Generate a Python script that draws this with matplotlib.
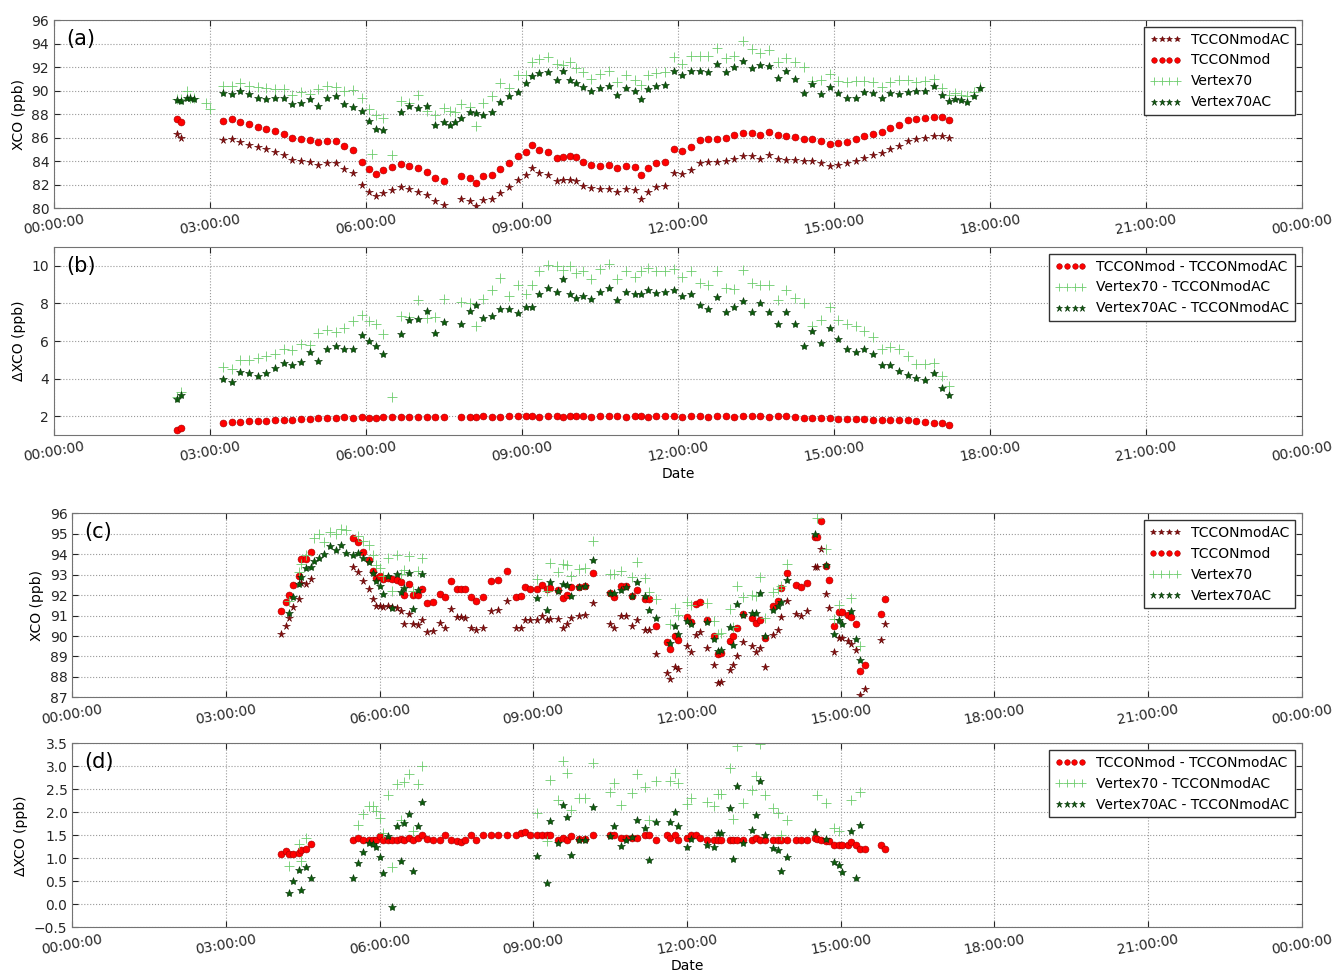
import matplotlib
matplotlib.use("Agg")
import matplotlib.pyplot as plt
import numpy as np

# ---------------- day 1 : panels (a) and (b) ----------------
# times of the TCCON measurements
t1 = ["02:22", "02:27", "03:15", "03:25", "03:35", "03:45", "03:55", "04:05", "04:15", "04:25",
      "04:35", "04:45", "04:55", "05:05", "05:15", "05:25", "05:35", "05:45", "05:55", "06:03",
      "06:12", "06:20", "06:30", "06:40", "06:50", "07:00", "07:10", "07:20", "07:30", "07:50",
      "08:00", "08:07", "08:15", "08:25", "08:35", "08:45", "08:55", "09:05", "09:12", "09:20",
      "09:30", "09:40", "09:47", "09:55", "10:02", "10:10", "10:20", "10:30", "10:40", "10:50",
      "11:00", "11:10", "11:17", "11:25", "11:35", "11:45", "11:55", "12:05", "12:15", "12:25",
      "12:35", "12:45", "12:55", "13:05", "13:15", "13:25", "13:35", "13:45", "13:55", "14:05",
      "14:15", "14:25", "14:35", "14:45", "14:55", "15:05", "15:15", "15:25", "15:35", "15:45",
      "15:55", "16:05", "16:15", "16:25", "16:35", "16:45", "16:55", "17:05", "17:13"]
# XCO TCCONmodAC (ppb)
ac1 = [86.3, 86.0, 85.8, 85.9, 85.6, 85.4, 85.2, 85.0, 84.8, 84.5,
       84.1, 84.0, 83.9, 83.7, 83.8, 83.8, 83.3, 83.0, 82.0, 81.4,
       81.0, 81.3, 81.5, 81.8, 81.6, 81.4, 81.1, 80.6, 80.3, 80.8,
       80.6, 80.2, 80.7, 80.8, 81.3, 81.8, 82.4, 82.8, 83.4, 83.0,
       82.8, 82.3, 82.4, 82.4, 82.3, 81.9, 81.7, 81.6, 81.6, 81.4,
       81.6, 81.5, 80.8, 81.4, 81.8, 81.9, 83.0, 82.9, 83.2, 83.8,
       83.9, 83.9, 84.0, 84.2, 84.4, 84.4, 84.2, 84.5, 84.2, 84.1,
       84.1, 84.0, 84.0, 83.8, 83.6, 83.7, 83.8, 84.0, 84.3, 84.5,
       84.7, 85.0, 85.3, 85.7, 85.9, 86.0, 86.1, 86.1, 86.0]
# TCCONmod - TCCONmodAC
dmod1 = [1.28, 1.35, 1.62, 1.68, 1.70, 1.72, 1.73, 1.75, 1.78, 1.80,
         1.82, 1.85, 1.87, 1.90, 1.93, 1.92, 1.95, 1.93, 1.95, 1.90,
         1.92, 1.97, 1.98, 1.98, 1.97, 1.98, 1.97, 1.98, 1.98, 1.95,
         1.97, 1.96, 2.00, 1.97, 1.98, 2.00, 2.02, 2.00, 2.00, 1.98,
         2.00, 2.00, 1.98, 2.00, 2.02, 2.00, 1.98, 2.00, 2.02, 2.00,
         1.98, 2.00, 2.00, 1.98, 2.00, 2.02, 2.00, 1.98, 2.00, 2.00,
         1.98, 2.00, 2.00, 1.98, 2.00, 2.00, 2.00, 1.98, 2.00, 2.00,
         1.98, 1.90, 1.88, 1.88, 1.88, 1.85, 1.86, 1.84, 1.84, 1.82,
         1.80, 1.80, 1.80, 1.80, 1.72, 1.68, 1.66, 1.62, 1.52]
# Vertex70 - TCCONmodAC
dv1 = [3.0, 3.3, 4.6, 4.5, 5.0, 5.0, 5.1, 5.2, 5.3, 5.6,
       5.5, 5.85, 5.8, 6.45, 6.6, 6.5, 6.7, 7.05, 7.4, 7.05,
       6.9, 6.4, 3.0, 7.35, 7.3, 8.2, 7.2, 7.3, 8.25, 8.07,
       8.0, 6.8, 8.25, 8.7, 9.36, 8.4, 8.96, 8.5, 9.0, 9.7,
       10.05, 10.0, 9.8, 10.0, 9.6, 9.7, 9.3, 9.85, 10.1, 9.3,
       9.7, 9.4, 9.7, 9.9, 9.7, 9.7, 9.85, 9.4, 9.7, 9.1,
       9.0, 9.7, 8.8, 8.75, 9.8, 9.1, 9.0, 8.96, 8.2, 8.7,
       8.3, 8.0, 6.8, 7.1, 7.8, 7.1, 6.9, 6.8, 6.55, 6.2,
       5.6, 5.7, 5.6, 5.2, 4.8, 4.8, 4.85, 4.15, 3.6]
# Vertex70AC - TCCONmodAC
dvac1 = [2.9, 3.15, 3.96, 3.8, 4.35, 4.3, 4.15, 4.3, 4.55, 4.85,
         4.75, 4.9, 5.4, 4.95, 5.55, 5.75, 5.55, 5.6, 6.3, 6.0,
         5.75, 5.3, np.nan, 6.4, 7.1, 7.15, 7.6, 6.45, 7.0, 6.9,
         7.6, 7.9, 7.2, 7.35, 7.7, 7.7, 7.5, 7.8, 7.8, 8.5,
         8.8, 8.6, 9.3, 8.5, 8.3, 8.4, 8.25, 8.6, 8.8, 8.2,
         8.6, 8.5, 8.5, 8.7, 8.55, 8.6, 8.7, 8.4, 8.5, 7.9,
         7.7, 8.35, 7.55, 7.8, 8.15, 7.55, 8.0, 7.55, 6.9, 7.55,
         6.9, 5.75, 6.55, 5.9, 6.7, 6.1, 5.6, 5.4, 5.6, 5.3,
         4.7, 4.75, 4.4, 4.2, 4.05, 3.95, 4.3, 3.5, 3.15]
# Vertex measurements without a TCCON partner
tv1 = ["02:33", "02:37", "02:41", "02:55", "03:00", "06:07", "07:37", "07:43",
       "17:20", "17:27", "17:34", "17:41", "17:48"]
v70_1 = [90.0, 89.4, 89.4, 88.9, 88.4, 84.6, 88.3, 88.2, 89.8, 89.6, 89.5, 89.9, 90.3]
v70ac_1 = [89.4, 89.4, 89.3, np.nan, np.nan, np.nan, 87.1, 87.3, 89.3, 89.2, 89.0, 89.5, 90.2]

# ---------------- day 2 : panels (c) and (d) ----------------
t2 = ["04:04", "04:10", "04:14", "04:19", "04:25", "04:28", "04:34", "04:40", "05:29", "05:35",
      "05:41", "05:47", "05:52", "05:56", "06:00", "06:04", "06:10", "06:15", "06:20", "06:25",
      "06:29", "06:34", "06:39", "06:45", "06:50", "06:55", "07:03", "07:11", "07:16", "07:24",
      "07:30", "07:35", "07:40", "07:47", "07:53", "08:01", "08:10", "08:19", "08:29", "08:40",
      "08:46", "08:50", "08:56", "09:04", "09:10", "09:16", "09:19", "09:29", "09:35", "09:39",
      "09:44", "09:54", "10:00", "10:10", "10:30", "10:34", "10:43", "10:49", "10:55", "11:01",
      "11:11", "11:16", "11:24", "11:36", "11:40", "11:46", "11:49", "12:00", "12:05", "12:11",
      "12:15", "12:23", "12:31", "12:36", "12:40", "12:50", "12:54", "12:59", "13:05", "13:16",
      "13:21", "13:25", "13:31", "13:41", "13:47", "13:50", "13:57", "14:07", "14:14", "14:21",
      "14:30", "14:32", "14:37", "14:43", "14:46", "14:52", "14:58", "15:02", "15:08", "15:12",
      "15:18", "15:22", "15:28", "15:47", "15:52"]
ac2 = [90.1, 90.5, 90.9, 91.4, 91.8, 92.6, 92.55, 92.8, 93.4, 93.15,
       92.7, 92.3, 91.8, 91.45, 91.45, 91.4, 91.45, 91.4, 91.35, 91.2,
       90.6, 91.1, 90.6, 90.55, 90.8, 90.2, 90.25, 90.65, 90.4, 91.3,
       90.95, 90.95, 90.9, 90.4, 90.3, 90.4, 91.2, 91.25, 91.7, 90.4,
       90.4, 90.8, 90.8, 90.8, 91.0, 90.8, 90.85, 90.85, 90.4, 90.6,
       90.9, 91.0, 91.05, 91.6, 90.6, 90.4, 91.0, 91.0, 90.5, 90.8,
       90.3, 90.3, 89.1, 88.2, 87.9, 88.5, 88.4, 89.5, 89.2, 90.05,
       90.2, 89.4, 88.6, 87.7, 87.75, 88.35, 88.6, 89.0, 89.7, 89.5,
       89.2, 89.4, 88.5, 90.05, 90.3, 90.95, 91.7, 91.1, 91.0, 91.2,
       93.4, 93.4, 94.25, 92.05, 91.35, 89.2, 89.9, 89.9, 89.75, 89.6,
       89.3, 87.1, 87.4, 89.8, 90.6]
dmod2 = [1.1, 1.15, 1.1, 1.1, 1.12, 1.18, 1.2, 1.3, 1.4, 1.44,
         1.4, 1.4, 1.4, 1.4, 1.49, 1.4, 1.4, 1.4, 1.4, 1.42,
         1.4, 1.45, 1.4, 1.45, 1.5, 1.42, 1.4, 1.4, 1.5, 1.4,
         1.37, 1.35, 1.4, 1.5, 1.4, 1.5, 1.5, 1.5, 1.5, 1.5,
         1.55, 1.58, 1.5, 1.5, 1.5, 1.5, 1.5, 1.4, 1.45, 1.4,
         1.48, 1.42, 1.42, 1.5, 1.5, 1.5, 1.45, 1.45, 1.45, 1.45,
         1.5, 1.5, 1.4, 1.5, 1.45, 1.5, 1.4, 1.45, 1.5, 1.5,
         1.45, 1.4, 1.4, 1.4, 1.4, 1.4, 1.4, 1.4, 1.4, 1.4,
         1.45, 1.4, 1.4, 1.4, 1.4, 1.4, 1.4, 1.4, 1.4, 1.4,
         1.45, 1.42, 1.4, 1.38, 1.38, 1.29, 1.29, 1.29, 1.29, 1.35,
         1.29, 1.2, 1.2, 1.29, 1.2]
dv2 = [np.nan, np.nan, 0.83, np.nan, 1.31, 0.93, 1.43, np.nan, np.nan, 1.72,
       1.96, 2.14, 2.14, 2.03, 1.87, 1.56, 2.38, 0.8, 2.62, 1.83,
       2.65, 2.83, 1.6, 2.62, 3.0, np.nan, np.nan, np.nan, np.nan, np.nan,
       np.nan, np.nan, np.nan, np.nan, np.nan, np.nan, np.nan, np.nan, np.nan, np.nan,
       np.nan, np.nan, np.nan, 1.98, np.nan, 1.38, 2.7, 2.27, 3.12, 2.85,
       2.05, 2.3, 2.3, 3.07, 2.45, 2.63, 2.16, np.nan, 2.41, 2.83,
       2.54, 1.83, 2.69, np.nan, 2.69, 2.86, 2.63, 2.18, 2.3, np.nan,
       np.nan, 2.23, 2.14, 2.4, 2.4, 2.96, 1.85, 3.44, 2.2, 2.49,
       2.78, 3.48, 2.38, 2.1, 1.99, 1.5, 1.83, np.nan, np.nan, np.nan,
       np.nan, 2.38, np.nan, 2.21, np.nan, 1.65, 1.6, np.nan, np.nan, 2.27,
       np.nan, 2.43, np.nan, np.nan, np.nan]
dvac2 = [np.nan, np.nan, 0.25, 0.51, 0.75, 0.3, 0.8, 0.57, 0.58, 0.89,
         1.13, 1.33, 1.3, 1.24, 1.02, 0.67, 1.49, -0.05, 1.7, 0.94,
         1.76, 1.96, 0.73, 1.7, 2.23, np.nan, np.nan, np.nan, np.nan, np.nan,
         np.nan, np.nan, np.nan, np.nan, np.nan, np.nan, np.nan, np.nan, np.nan, np.nan,
         np.nan, np.nan, np.nan, 1.05, np.nan, 0.47, 1.8, 1.33, 2.16, 1.89,
         1.07, 1.4, 1.4, 2.12, 1.49, 1.7, 1.27, 1.4, 1.47, 1.83,
         1.65, 0.96, 1.78, np.nan, 1.78, 2.01, 1.7, 1.24, 1.41, np.nan,
         np.nan, 1.29, 1.24, 1.55, 1.55, 2.09, 0.98, 2.57, 1.33, 1.62,
         1.94, 2.69, 1.51, 1.22, 1.17, 0.73, 1.02, np.nan, np.nan, np.nan,
         1.58, np.nan, np.nan, 1.41, np.nan, 0.91, 0.86, 0.71, np.nan, 1.6,
         0.57, 1.72, np.nan, np.nan, np.nan]
tv2 = ["04:43", "04:49", "04:55", "05:02", "05:09", "05:15", "05:21"]
v70_2 = [94.8, 95.0, 94.6, 95.1, 95.0, 95.25, 95.2]
v70ac_2 = [93.65, 93.8, 94.0, 94.4, 94.2, 94.45, 94.05]

hour_ticks = [0, 3, 6, 9, 12, 15, 18, 21, 24]
hour_labels = ["00:00:00", "03:00:00", "06:00:00", "09:00:00", "12:00:00",
               "15:00:00", "18:00:00", "21:00:00", "00:00:00"]

C_AC = "#8c0a0a"
C_MOD = "#ff0000"
C_V70 = "#6ccc6c"
C_V70AC = "#0b5d0b"


def hrs(times):
    return np.array([int(s[:2]) + int(s[3:]) / 60.0 for s in times])


def style_axes(ax, ylim, yticks, letter, xlabel=False):
    ax.set_xlim(0, 24)
    ax.set_ylim(*ylim)
    ax.set_yticks(yticks)
    ax.set_xticks(hour_ticks)
    ax.set_xticklabels(hour_labels, rotation=10, ha="center")
    ax.grid(True, linestyle=":", color="0.6", linewidth=0.8)
    ax.tick_params(direction="in", top=True, right=True, length=4, labelsize=10,
                   colors="0.15")
    for sp in ax.spines.values():
        sp.set_color("0.45")
    ax.text(0.01, 0.9, letter, transform=ax.transAxes, fontsize=15, va="center")
    if xlabel:
        ax.set_xlabel("Date", fontsize=10, labelpad=2)


def legend(ax):
    lg = ax.legend(loc="upper right", numpoints=4, fontsize=10, handlelength=2.3,
                   handletextpad=0.7, fancybox=False, framealpha=1, borderaxespad=0.5,
                   labelspacing=0.5, markerscale=0.8)
    lg.get_frame().set_edgecolor("0.2")


def draw_abs(ax, t, ac, dm, dv, dvac, tv, v70x, v70acx):
    t = hrs(t)
    tv = hrs(tv)
    ac = np.array(ac)
    ax.plot(t, ac, "*", color=C_AC, ms=5.5, mec="#5a0000", mew=0.4, label="TCCONmodAC")
    ax.plot(t, ac + np.array(dm), "o", color=C_MOD, ms=5, mec="#a00000", mew=0.4,
            label="TCCONmod")
    ax.plot(np.concatenate([t, tv]), np.concatenate([ac + np.array(dv), v70x]), "+",
            color=C_V70, ms=6.5, mew=0.6, label="Vertex70")
    ax.plot(np.concatenate([t, tv]), np.concatenate([ac + np.array(dvac), v70acx]), "*",
            color=C_V70AC, ms=6, mec="#053005", mew=0.4, label="Vertex70AC")


def draw_diff(ax, t, dm, dv, dvac):
    t = hrs(t)
    ax.plot(t, dm, "o", color=C_MOD, ms=5, mec="#a00000", mew=0.4,
            label="TCCONmod - TCCONmodAC")
    ax.plot(t, dv, "+", color=C_V70, ms=6.5, mew=0.6, label="Vertex70 - TCCONmodAC")
    ax.plot(t, dvac, "*", color=C_V70AC, ms=6, mec="#053005", mew=0.4,
            label="Vertex70AC - TCCONmodAC")


fig = plt.figure(figsize=(13.38, 9.73), dpi=100)

ax_a = fig.add_axes([0.0404, 0.7862, 0.9327, 0.1932])
draw_abs(ax_a, t1, ac1, dmod1, dv1, dvac1, tv1, v70_1, v70ac_1)
style_axes(ax_a, (80, 96), range(80, 97, 2), "(a)")
ax_a.set_ylabel("XCO (ppb)", fontsize=10)
legend(ax_a)

ax_b = fig.add_axes([0.0404, 0.5529, 0.9327, 0.1932])
draw_diff(ax_b, t1, dmod1, dv1, dvac1)
style_axes(ax_b, (1, 11), [2, 4, 6, 8, 10], "(b)", xlabel=True)
ax_b.set_ylabel("\u0394XCO (ppb)", fontsize=10)
legend(ax_b)

ax_c = fig.add_axes([0.054, 0.2833, 0.919, 0.1891])
draw_abs(ax_c, t2, ac2, dmod2, dv2, dvac2, tv2, v70_2, v70ac_2)
style_axes(ax_c, (87, 96), range(87, 97), "(c)")
ax_c.set_ylabel("XCO (ppb)", fontsize=10)
legend(ax_c)

ax_d = fig.add_axes([0.054, 0.047, 0.919, 0.1891])
draw_diff(ax_d, t2, dmod2, dv2, dvac2)
style_axes(ax_d, (-0.5, 3.5), np.arange(-0.5, 3.6, 0.5), "(d)", xlabel=True)
ax_d.set_ylabel("\u0394XCO (ppb)", fontsize=10)
legend(ax_d)

fig.savefig("out.png", dpi=100)
